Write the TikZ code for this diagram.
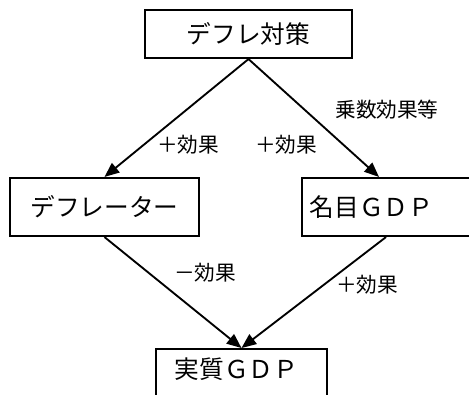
\documentclass[tikz,border=0pt]{standalone}
\usepackage{fontspec}
\setmainfont{Noto Sans CJK JP}
\usetikzlibrary{arrows.meta}
\begin{document}
\begin{tikzpicture}[x=0.75pt,y=-0.75pt,
  box/.style={draw,line width=1.6pt,inner sep=0pt,font=\fontsize{18.5pt}{20pt}\selectfont},
  conn/.style={line width=1.4pt,-{Triangle[length=11pt,width=9pt]}},
  lbl/.style={font=\fontsize{15.5pt}{17pt}\selectfont,inner sep=0pt}]
\useasboundingbox (0,0) rectangle (469,394);
\clip (0,0) rectangle (469,394);
\node[box,minimum width=155.25pt,minimum height=36pt] (top) at (248.5,34) {デフレ対策};
\node[box,minimum width=141.75pt,minimum height=43.5pt] (defl) at (104.5,207) {デフレーター};
\node[box,minimum height=43.5pt,text width=121.5pt,align=left,inner xsep=6pt] (nom) at (391,207) {名目ＧＤＰ};
\node[box,anchor=north,inner xsep=14.25pt,text width=99.75pt,align=left,text height=21.75pt,text depth=30pt] (real) at (241.5,348) {実質ＧＤＰ};
\draw[conn] (top.south) -- (defl.north);
\draw[conn] (top.south) -- ([xshift=-9pt]nom.north);
\draw[conn] (defl.south) -- (real.north);
\draw[conn] ([xshift=-3.75pt]nom.south) -- (real.north);
\node[lbl] (l1) at (188,145) {＋効果};
\node[lbl] (l2) at (286,145) {＋効果};
\node[lbl] (l3) at (387,110) {乗数効果等};
\node[lbl] (l4) at (205,273) {－効果};
\node[lbl] (l5) at (367,285) {＋効果};
\end{tikzpicture}
\end{document}
